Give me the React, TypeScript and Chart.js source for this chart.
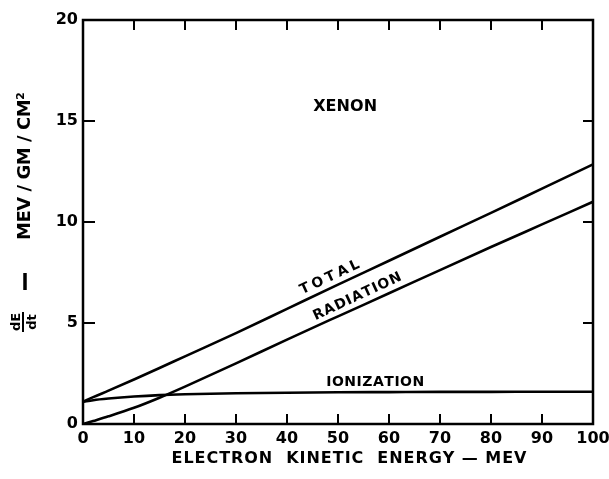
import React, { useEffect, useRef } from "react";
import { Chart, registerables } from "chart.js";

Chart.register(...registerables);

// ---- data ----
const energy = [0, 2, 5, 10, 15, 20, 30, 40, 50, 60, 70, 80, 90, 100];
const total = [1.1, 1.33, 1.65, 2.2, 2.77, 3.35, 4.5, 5.7, 6.9, 8.08, 9.27, 10.45, 11.65, 12.85];
const radiation = [0, 0.15, 0.38, 0.8, 1.3, 1.85, 3.0, 4.18, 5.33, 6.47, 7.62, 8.76, 9.88, 11.0];
const ionization = [1.1, 1.18, 1.26, 1.36, 1.43, 1.47, 1.52, 1.55, 1.57, 1.58, 1.59, 1.59, 1.6, 1.6];

const xTicks = [0, 10, 20, 30, 40, 50, 60, 70, 80, 90, 100];
const yTicks = [0, 5, 10, 15, 20];

const xTitle = "ELECTRON  KINETIC  ENERGY — MEV";
const yTitleUnits = "MEV / GM / CM²";
const chartName = "XENON";
const curveLabels = [
  { text: "TOTAL", x: 48.4, y: 7.25 },
  { text: "RADIATION", x: 53.8, y: 6.3 },
  { text: "IONIZATION", x: 57.3, y: 2.08 },
];

const FONT = "'DejaVu Sans', 'Liberation Sans', sans-serif";

function drawSpaced(
  ctx: CanvasRenderingContext2D,
  text: string,
  cx: number,
  cy: number,
  targetW: number,
  angle: number
) {
  ctx.save();
  ctx.translate(cx, cy);
  ctx.rotate(angle);
  ctx.textAlign = "left";
  ctx.textBaseline = "middle";
  const chars = Array.from(text);
  const widths = chars.map((c) => ctx.measureText(c).width);
  const sum = widths.reduce((a, b) => a + b, 0);
  const spacing = chars.length > 1 ? (targetW - sum) / (chars.length - 1) : 0;
  let x = -targetW / 2;
  chars.forEach((c, i) => {
    ctx.fillText(c, x, 0);
    x += widths[i] + spacing;
  });
  ctx.restore();
}

const framePlugin = {
  id: "frame",
  afterDraw(chart: any) {
    const { ctx, chartArea: a, scales } = chart;
    const xs = scales.x;
    const ys = scales.y;
    ctx.save();
    ctx.strokeStyle = "#000";
    ctx.fillStyle = "#000";
    ctx.lineWidth = 2.5;
    ctx.lineCap = "square";
    ctx.strokeRect(a.left, a.top, a.right - a.left, a.bottom - a.top);
    // inward ticks
    ctx.lineWidth = 2;
    ctx.lineCap = "butt";
    xTicks.slice(1, -1).forEach((v) => {
      const px = xs.getPixelForValue(v);
      ctx.beginPath();
      ctx.moveTo(px, a.bottom);
      ctx.lineTo(px, a.bottom - 10);
      ctx.moveTo(px, a.top);
      ctx.lineTo(px, a.top + 10);
      ctx.stroke();
    });
    yTicks.slice(1, -1).forEach((v) => {
      const py = ys.getPixelForValue(v);
      ctx.beginPath();
      ctx.moveTo(a.left, py);
      ctx.lineTo(a.left + 12, py);
      ctx.moveTo(a.right, py);
      ctx.lineTo(a.right - 10, py);
      ctx.stroke();
    });

    // chart name
    ctx.font = `bold 16px ${FONT}`;
    drawSpaced(ctx, chartName, xs.getPixelForValue(51.4), ys.getPixelForValue(15.7), 64, 0);

    // curve labels, rotated along the lines
    const slope = (12.85 - 1.1) / 100;
    const pxSlope =
      (ys.getPixelForValue(0) - ys.getPixelForValue(slope * 10)) /
      (xs.getPixelForValue(10) - xs.getPixelForValue(0));
    const ang = -Math.atan(pxSlope);
    ctx.font = `bold 14px ${FONT}`;
    drawSpaced(ctx, curveLabels[0].text, xs.getPixelForValue(curveLabels[0].x), ys.getPixelForValue(curveLabels[0].y), 64, ang);
    drawSpaced(ctx, curveLabels[1].text, xs.getPixelForValue(curveLabels[1].x), ys.getPixelForValue(curveLabels[1].y), 96, ang);
    drawSpaced(ctx, curveLabels[2].text, xs.getPixelForValue(curveLabels[2].x), ys.getPixelForValue(curveLabels[2].y), 98, 0);

    // x-axis title
    ctx.font = `bold 16px ${FONT}`;
    drawSpaced(ctx, xTitle, 349, 459, 355, 0);

    // y-axis title
    ctx.font = `bold 18px ${FONT}`;
    drawSpaced(ctx, yTitleUnits, 25, 166, 148, -Math.PI / 2);
    // dash
    ctx.lineWidth = 3.5;
    ctx.beginPath();
    ctx.moveTo(25, 273);
    ctx.lineTo(25, 290);
    ctx.stroke();
    // fraction dE/dt
    ctx.save();
    ctx.translate(23, 322);
    ctx.rotate(-Math.PI / 2);
    ctx.font = `bold 13px ${FONT}`;
    ctx.textAlign = "center";
    ctx.textBaseline = "alphabetic";
    ctx.fillText("dE", 0, -3);
    ctx.textBaseline = "top";
    ctx.fillText("dt", 0, 3);
    ctx.lineWidth = 2;
    ctx.beginPath();
    ctx.moveTo(-10, 0);
    ctx.lineTo(10, 0);
    ctx.stroke();
    ctx.restore();

    ctx.restore();
  },
};

function toPoints(ys: number[]) {
  return energy.map((x, i) => ({ x, y: ys[i] }));
}

export default function App() {
  const ref = useRef<HTMLCanvasElement | null>(null);
  useEffect(() => {
    if (!ref.current) return;
    const lineStyle = {
      borderColor: "#000",
      borderWidth: 2.6,
      pointRadius: 0,
      fill: false,
      cubicInterpolationMode: "monotone" as const,
    };
    const chart = new Chart(ref.current, {
      type: "line",
      data: {
        datasets: [
          { label: "TOTAL", data: toPoints(total), ...lineStyle },
          { label: "RADIATION", data: toPoints(radiation), ...lineStyle },
          { label: "IONIZATION", data: toPoints(ionization), ...lineStyle },
        ],
      },
      options: {
        responsive: false,
        animation: false,
        events: [],
        layout: { padding: { top: 20, right: 16, left: 0, bottom: 0 } },
        plugins: {
          legend: { display: false },
          tooltip: { enabled: false },
          title: { display: false },
        },
        scales: {
          x: {
            type: "linear",
            min: 0,
            max: 100,
            afterBuildTicks: (s: any) => {
              s.ticks = xTicks.map((v) => ({ value: v }));
            },
            afterFit: (s: any) => {
              s.height = 55;
              s.paddingLeft = 0;
              s.paddingRight = 0;
            },
            grid: { display: false, drawTicks: false },
            border: { display: false },
            ticks: {
              color: "#000",
              padding: 5,
              maxRotation: 0,
              autoSkip: false,
              font: { family: FONT, size: 16, weight: "bold" },
            },
          },
          y: {
            type: "linear",
            min: 0,
            max: 20,
            afterBuildTicks: (s: any) => {
              s.ticks = yTicks.map((v) => ({ value: v }));
            },
            afterFit: (s: any) => {
              s.width = 83;
              s.paddingTop = 0;
              s.paddingBottom = 0;
            },
            grid: { display: false, drawTicks: false },
            border: { display: false },
            ticks: {
              color: "#000",
              padding: 5,
              font: { family: FONT, size: 16, weight: "bold" },
            },
          },
        },
      },
      plugins: [framePlugin],
    });
    return () => chart.destroy();
  }, []);
  return (
    <div style={{ position: "fixed", left: 0, top: 0, width: 609, height: 479, background: "#fff" }}>
      <canvas ref={ref} width={609} height={479} style={{ display: "block" }} />
    </div>
  );
}
